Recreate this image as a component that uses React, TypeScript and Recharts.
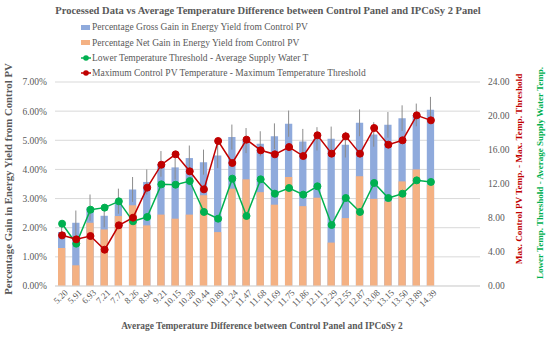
import React from "react";
import {
  ComposedChart,
  Bar,
  Line,
  XAxis,
  YAxis,
  CartesianGrid,
  ErrorBar,
} from "recharts";

const categories = [
  "5.20", "5.91", "6.93", "7.21", "7.71", "8.26", "8.94", "9.21", "10.15",
  "10.28", "10.44", "10.89", "11.24", "11.47", "11.68", "11.69", "11.75",
  "11.86", "12.11", "12.29", "12.55", "12.87", "13.08", "13.15", "13.50",
  "13.89", "14.39",
];

// percentage gains (%)
const grossGain = [
  1.85, 2.17, 2.69, 2.41, 2.91, 3.31, 3.57, 4.19, 4.07, 4.39, 4.25, 4.48, 5.11,
  4.99, 4.88, 5.14, 5.57, 4.96, 5.05, 5.05, 4.85, 5.6, 5.2, 5.53, 5.76, 5.87,
  6.05,
];
const grossErr = [
  0.25, 0.42, 0.45, 0.4, 0.43, 0.43, 0.43, 0.44, 0.42, 0.43, 0.43, 0.43, 0.43,
  0.43, 0.43, 0.44, 0.45, 0.43, 0.4, 0.42, 0.44, 0.46, 0.42, 0.44, 0.44, 0.39,
  0.44,
];
const netGain = [
  1.3, 0.71, 2.17, 1.94, 2.4, 2.77, 2.08, 2.45, 2.31, 2.45, 3.11, 1.85, 3.34,
  3.66, 3.22, 2.79, 3.74, 2.74, 3.03, 1.49, 2.33, 3.77, 2.99, 2.9, 3.59, 4.0,
  3.47,
];

// temperature differences (°C)
const lowerThreshold = [
  7.33, 4.98, 8.98, 9.22, 9.96, 7.61, 8.12, 11.96, 11.92, 12.35, 8.71, 7.92,
  12.63, 8.24, 12.55, 10.86, 11.53, 10.75, 11.73, 7.18, 10.35, 8.71, 12.12,
  10.35, 10.86, 12.43, 12.24,
];
const maxTemp = [
  5.96, 5.49, 5.88, 4.27, 7.14, 8.04, 11.57, 14.27, 15.49, 13.49, 11.37, 17.06,
  14.47, 17.22, 15.96, 15.49, 16.35, 15.29, 17.73, 15.57, 17.61, 15.57, 18.59,
  16.63, 17.14, 20.08, 19.49,
];

const leftTicks = [0, 1, 2, 3, 4, 5, 6, 7];
const rightTicks = [0, 4, 8, 12, 16, 20, 24];

const data = categories.map((cat, i) => ({
  cat,
  gross: grossGain[i],
  grossErr: grossErr[i],
  net: netGain[i],
  lower: lowerThreshold[i],
  max: maxTemp[i],
}));

const FONT = '"Liberation Serif", "Times New Roman", serif';
const GREY = "#595959";
const BLUE = "#8FAADC";
const ORANGE = "#F4B183";
const GREEN = "#00B050";
const RED = "#C00000";

const legendItems = [
  { label: "Percentage Gross Gain in Energy Yield from Control PV", color: BLUE, kind: "bar" },
  { label: "Percentage Net Gain in Energy Yield from Control PV", color: ORANGE, kind: "bar" },
  { label: "Lower Temperature Threshold - Average Supply Water T", color: GREEN, kind: "line" },
  { label: "Maximum Control PV Temperature - Maximum Temperature Threshold", color: RED, kind: "line" },
];

function XTick(props: any) {
  const { x, y, payload } = props;
  return (
    <g transform={`translate(${x + 4},${y - 3})`}>
      <text
        x={0}
        y={0}
        dy="0.35em"
        textAnchor="end"
        transform="rotate(-45)"
        fontSize={9}
        fontFamily={FONT}
        fill={GREY}
      >
        {payload.value}
      </text>
    </g>
  );
}

function VTitle({ text, x, y, color, size }: any) {
  return (
    <div
      style={{
        position: "absolute",
        left: x,
        top: y,
        transform: "translate(-50%, -50%) rotate(-90deg)",
        whiteSpace: "nowrap",
        fontFamily: FONT,
        fontWeight: "bold",
        fontSize: size,
        color,
      }}
    >
      {text}
    </div>
  );
}

export default function App() {
  return (
    <div style={{ position: "absolute", left: 0, top: 0, width: 550, height: 338, background: "#fff" }}>
      <ComposedChart
        width={550}
        height={338}
        data={data}
        margin={{ top: 82, right: 0, bottom: 0, left: 0 }}
        barSize={7.3}
        barGap={-7.3}
      >
        <CartesianGrid yAxisId="left" vertical={false} stroke="#D9D9D9" />
        <XAxis
          dataKey="cat"
          interval={0}
          height={52}
          tickLine={false}
          axisLine={{ stroke: "#D9D9D9" }}
          padding={{ left: 0, right: 42 }}
          tick={<XTick />}
        />
        <YAxis
          yAxisId="left"
          domain={[0, 7]}
          ticks={leftTicks}
          width={55}
          tickLine={false}
          axisLine={false}
          tick={{ fontSize: 9.5, fontFamily: FONT, fill: GREY }}
          tickFormatter={(v: number) => `${v.toFixed(2)}%`}
        />
        <YAxis
          yAxisId="right"
          orientation="right"
          domain={[0, 24]}
          ticks={rightTicks}
          width={70}
          tickLine={false}
          axisLine={false}
          tick={{ fontSize: 9.5, fontFamily: FONT, fill: GREY }}
          tickFormatter={(v: number) => v.toFixed(2)}
        />
        <Bar yAxisId="left" dataKey="gross" fill={BLUE} isAnimationActive={false}>
          <ErrorBar dataKey="grossErr" width={0} stroke="#8C8C8C" strokeWidth={1} />
        </Bar>
        <Bar yAxisId="left" dataKey="net" fill={ORANGE} isAnimationActive={false} />
        <Line
          yAxisId="right"
          dataKey="lower"
          stroke={GREEN}
          strokeWidth={1.5}
          dot={{ r: 3.5, fill: GREEN, stroke: GREEN, strokeWidth: 1 }}
          isAnimationActive={false}
        />
        <Line
          yAxisId="right"
          dataKey="max"
          stroke={RED}
          strokeWidth={1.5}
          dot={{ r: 3.5, fill: RED, stroke: RED, strokeWidth: 1 }}
          isAnimationActive={false}
        />
      </ComposedChart>

      <div
        style={{
          position: "absolute",
          left: 268,
          top: 10,
          transform: "translate(-50%, -50%)",
          whiteSpace: "nowrap",
          fontFamily: FONT,
          fontWeight: "bold",
          fontSize: 10.5,
          color: GREY,
        }}
      >
        Processed Data vs Average Temperature Difference between Control Panel and IPCoSy 2 Panel
      </div>

      {legendItems.map((it, i) => (
        <div
          key={it.label}
          style={{
            position: "absolute",
            left: 81,
            top: 27.3 + i * 15.35,
            transform: "translateY(-50%)",
            display: "flex",
            alignItems: "center",
            whiteSpace: "nowrap",
            fontFamily: FONT,
            fontSize: 9.5,
            color: GREY,
          }}
        >
          {it.kind === "bar" ? (
            <span style={{ display: "inline-block", width: 9, height: 5, background: it.color, marginRight: 2 }} />
          ) : (
            <svg width={10} height={8} style={{ marginRight: 1 }}>
              <line x1={0} y1={4} x2={10} y2={4} stroke={it.color} strokeWidth={1.5} />
              <circle cx={5} cy={4} r={2.8} fill={it.color} />
            </svg>
          )}
          {it.label}
        </div>
      ))}

      <VTitle text="Percentage Gain in Energy Yield from Control PV" x={8} y={179} color={GREY} size={10.8} />
      <VTitle text="Max. Control PV Temp. - Max. Temp. Threshold" x={518.5} y={169} color={RED} size={9.2} />
      <VTitle text="Lower Temp. Threshold - Average Supply Water Temp." x={540} y={173} color={GREEN} size={9} />

      <div
        style={{
          position: "absolute",
          left: 262,
          top: 326,
          transform: "translate(-50%, -50%)",
          whiteSpace: "nowrap",
          fontFamily: FONT,
          fontWeight: "bold",
          fontSize: 9.4,
          color: GREY,
        }}
      >
        Average Temperature Difference between Control Panel and IPCoSy 2
      </div>
    </div>
  );
}
